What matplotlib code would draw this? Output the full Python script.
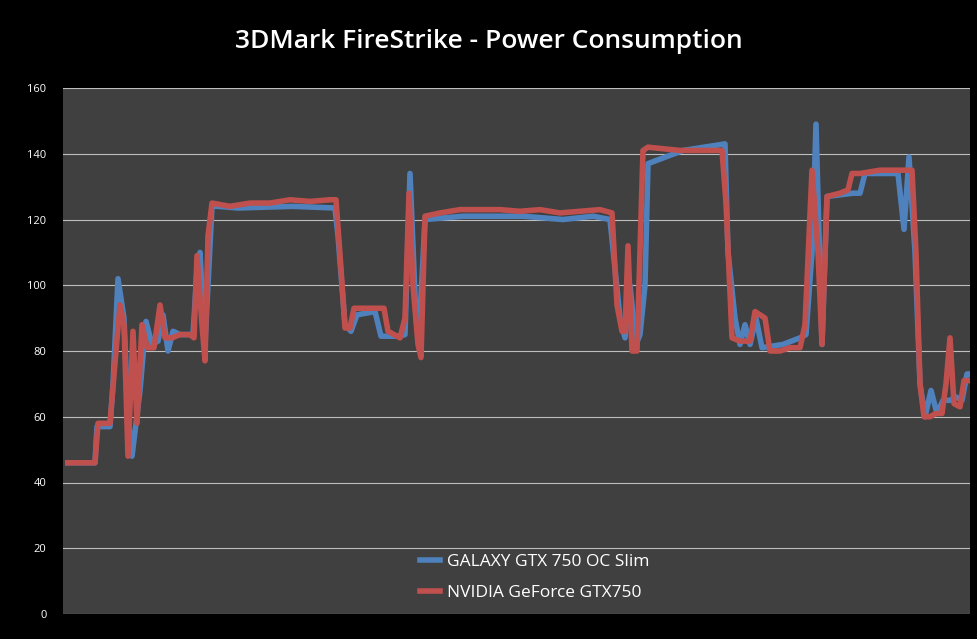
import matplotlib
matplotlib.use("Agg")
import matplotlib.pyplot as plt

title = "3DMark FireStrike - Power Consumption"
blue_name = "GALAXY GTX 750 OC Slim"
red_name = "NVIDIA GeForce GTX750"

blue_pts = [(5,46),(27,46),(32,46),(34,57),(47,57),(50,70),(55,102),(61,90),(65,60),(69,48),(77,68),(83,89),(89,82),(95,83),(100,91),(105,80),(110,86),(117,85),(130,85),(134,105),(137,110),(142,82),(149,124),(155,124),(175,123.5),(230,124),(272,123.5),(275,115),(282,88),(288,86),(294,91),(312,92),(318,84.5),(337,84.5),(342,85),(347,134),(353,90),(356,85),(362,120),(400,121),(460,121),(500,120),(530,121),(547,120),(552,105),(557,90),(562,84),(567,100),(573,82),(577,85),(582,100),(585,137),(620,141),(662,143),(665,110),(672,90),(677,82),(682,88),(687,82),(693,90),(699,81),(720,82),(737,84),(743,85),(749,110),(753,149),(759,82),(764,127),(790,128),(797,128),(802,134),(835,134),(841,117),(846,139),(852,110),(857,70),(862,60),(868,68),(874,61),(880,65),(887,65),(893,66),(899,65),(904,73),(907,73)]
red_pts = [(5,46),(27,46),(32,46),(35,58),(47,58),(53,80),(57,94),(61,88),(65,48),(70,86),(74,58),(79,88),(84,81),(91,81),(97,94),(102,84),(109,84),(117,85),(127,85),(131,84),(134,109),(139,88),(142,77),(145,115),(149,125),(167,124),(187,125),(207,125),(227,126),(247,125.5),(267,126),(273,126),(278,105),(282,87),(287,87),(291,93),(312,93),(321,93),(325,86),(337,84),(342,90),(346,128),(350,100),(355,82),(358,78),(362,121),(377,122),(397,123),(437,123),(457,122.5),(477,123),(497,122),(537,123),(549,122),(554,94),(559,86),(562,86),(565,112),(569,80),(574,80),(580,141),(585,142),(617,141),(659,141),(663,125),(669,84),(677,83),(687,83),(692,92),(697,91),(702,90),(707,80),(717,80),(727,81),(737,81),(742,88),(749,135),(755,110),(759,82),(764,127),(777,128),(785,129),(789,134),(797,134),(817,135),(842,135),(849,135),(853,110),(857,70),(861,60),(867,60),(873,61),(879,61),(883,70),(887,84),(891,64),(897,63),(901,71),(907,71)]

blue_t = [p[0] for p in blue_pts]; blue_v = [p[1] for p in blue_pts]
red_t = [p[0] for p in red_pts]; red_v = [p[1] for p in red_pts]

plt.rcParams["font.family"] = "Open Sans"
fig = plt.figure(figsize=(9.77, 6.39), dpi=100, facecolor="black")
ax = fig.add_axes([63/977, 25/639, 907/977, 526/639])
ax.set_facecolor("#404040")
ax.plot(blue_t, blue_v, color="#4F81BD", lw=4, label=blue_name, solid_joinstyle="round")
ax.plot(red_t, red_v, color="#C0504D", lw=4, label=red_name, solid_joinstyle="round")
ax.set_xlim(0, 907)
ax.set_ylim(0, 160)
ax.set_yticks(range(0, 161, 20))
ax.set_xticks([])
ax.tick_params(axis="y", colors="white", labelsize=8, length=0, pad=12)
ax.grid(axis="y", color="#BFBFBF", lw=0.8)
ax.set_axisbelow(True)
for s in ax.spines.values():
    s.set_visible(False)
fig.suptitle(title, color="white", fontsize=19, fontweight="semibold", y=0.955)
ax.legend(loc="lower center", bbox_to_anchor=(0.52, -0.005), frameon=False,
          fontsize=12.5, labelcolor="white", handlelength=1.2, handletextpad=0.4,
          labelspacing=0.85)
fig.savefig("out.png", dpi=100, facecolor="black")
